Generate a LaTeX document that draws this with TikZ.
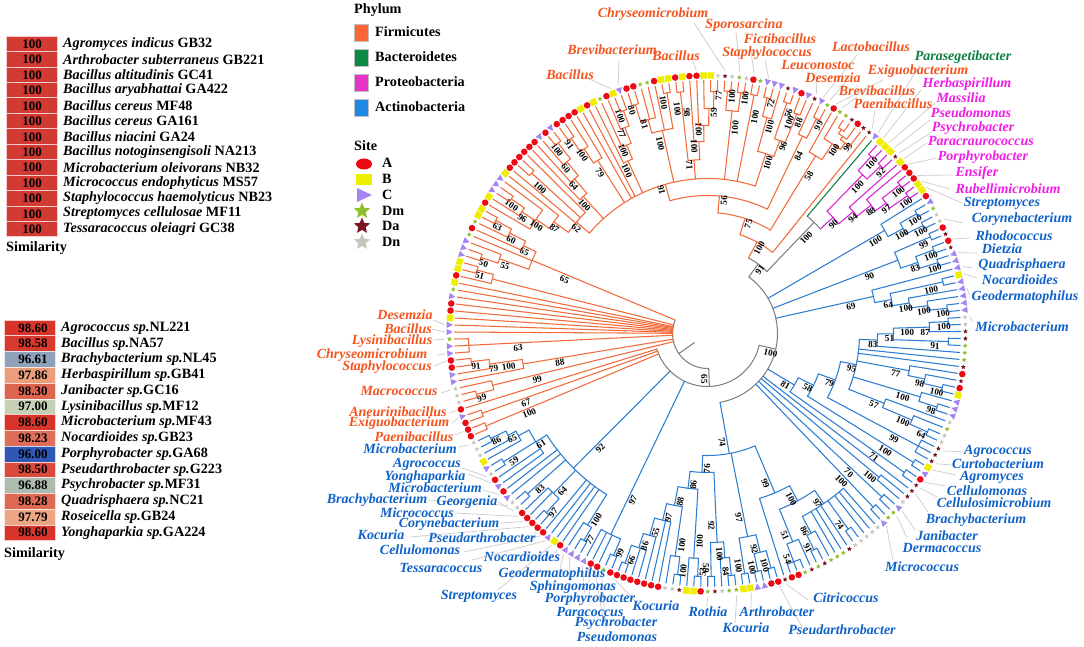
\documentclass[tikz,border=0pt]{standalone}
\usepackage{fontspec}
\setmainfont{Liberation Serif}
\usetikzlibrary{shapes.geometric}
\definecolor{fi}{HTML}{F2693A}
\definecolor{fit}{HTML}{F4541E}
\definecolor{ba}{HTML}{0B7F45}
\definecolor{pr}{HTML}{D91FD0}
\definecolor{prt}{HTML}{F01CE6}
\definecolor{ac}{HTML}{2B7CD3}
\definecolor{act}{HTML}{0F62C8}
\definecolor{gy}{HTML}{808080}
\definecolor{mA}{HTML}{EE0A14}
\definecolor{mB}{HTML}{F0EE00}
\definecolor{mC}{HTML}{A585F2}
\definecolor{mM}{HTML}{8DC02C}
\definecolor{mK}{HTML}{7A1420}
\definecolor{mN}{HTML}{C6C6BC}
\definecolor{lF}{HTML}{FF6633}
\definecolor{lB}{HTML}{0A8A45}
\definecolor{lP}{HTML}{E835C8}
\definecolor{lA}{HTML}{1E88E5}
\tikzset{
 blab/.style={text=black,inner sep=0pt,font=\bfseries\fontsize{9.2}{9}\selectfont},
 lead/.style={draw=black!20,line width=.7pt},
 tx/.style={inner sep=0pt,font=\bfseries\itshape\fontsize{14}{14}\selectfont},
 rowbox/.style={line width=.6pt},
 rowtxt/.style={anchor=west,inner sep=0pt,text=black,font=\bfseries\fontsize{14.2}{14}\selectfont},
 rownum/.style={inner sep=0pt,text=black,font=\bfseries\fontsize{13}{13}\selectfont},
 legtxt/.style={anchor=west,inner sep=0pt,text=black,font=\bfseries\fontsize{14.2}{14}\selectfont},
 legbox/.style={draw=black!25,line width=.6pt},
 starm/.style={star,star points=5,star point ratio=2.2,inner sep=0pt,minimum size=#1,draw=none},
 branch/.style={line width=1.05pt,line cap=round},
}
\def\Lf{.76}
\newcommand\Lab[3]{%
 \pgfmathsetmacro\la{266.89-1.5859*(#1)}%
 \pgfmathsetmacro\lc{cos(\la)}%
 \pgfmathsetmacro\ls{\lc>=0?-1:1}%
 \pgfmathsetmacro\lb{\la+\ls*5/(#2)*57.3}%
 \pgfmathsetmacro\lrot{\lc>=0?\la:\la+180}%
 \node[blab,rotate=\lrot] at (\lb:#2pt) {#3};}
\newcommand\Nd[5]{%
 \pgfmathsetmacro\aA{266.89-1.5859*(#1)}%
 \pgfmathsetmacro\aB{266.89-1.5859*(#2)}%
 \pgfmathsetmacro\aM{266.89-1.5859*(#1+#2)/2}%
 \draw[branch] (\aA:#3pt) arc[start angle=\aA,end angle=\aB,radius=#3pt];
 \draw[branch] (\aM:#4pt) -- (\aM:#3pt);
 \ifx\relax#5\relax\else
 \pgfmathsetmacro\lrr{#4+\Lf*(#3-#4)}%
 \Lab{(#1+#2)/2}{\lrr}{#5}%
 \fi}
\newcommand\Lv[2]{\foreach \q in {#2}{%
 \pgfmathsetmacro\aC{266.89-1.5859*\q}%
 \draw[branch] (\aC:#1pt) -- (\aC:253pt);}}
\newcommand\Ch[5]{\Nd{#1}{#2}{#3}{#4}{#5}\Lv{#3}{#1,#2}}
\newcommand\St[4]{%
 \pgfmathsetmacro\aM{266.89-1.5859*(#1)}%
 \draw[branch] (\aM:#2pt) -- (\aM:#3pt);
 \pgfmathsetmacro\lrr{#2+\Lf*(#3-#2)}%
 \Lab{#1}{\lrr}{#4}}
\newcommand\Ld[3]{%
 \pgfmathsetmacro\aC{266.89-1.5859*(#1)}%
 \draw[lead] (\aC:263pt) -- ({#2-707.5},{333.5-#3});}
\newcommand\Tx[4]{\node[tx,text=#1] at (#2,-#3) {#4};}
\newcommand\RowA[5]{%
 \pgfmathsetmacro\yy{-(36+15.44*(#1))}%
 \pgfmathsetmacro\yc{\yy-7.72}%
 \pgfmathsetmacro\yb{\yy-15.44}%
 \fill[#2,draw=white!75!#2,rowbox] (6.7,\yy) rectangle (57,\yb);
 \node[rownum] at (32,\yc-.5) {#3};
 \node[rowtxt] at (63,\yc) {\textit{#4} #5};}
\newcommand\RowB[5]{%
 \pgfmathsetmacro\yy{-(320+15.76*(#1))}%
 \pgfmathsetmacro\yc{\yy-7.88}%
 \pgfmathsetmacro\yb{\yy-15.76}%
 \fill[#2,draw=white!75!#2,rowbox] (4.5,\yy) rectangle (55,\yb);
 \node[rownum] at (33,\yc) {#3};
 \node[rowtxt] at (61,\yc) {\textit{#4 sp.}#5};}
\begin{document}
\begin{tikzpicture}[x=1pt,y=1pt]
\useasboundingbox (0,0) rectangle (1084,-647);
\fill[white] (0,0) rectangle (1084,-647);
% --- left tables
\definecolor{rr}{HTML}{D23A34}
\RowA{0}{rr}{100}{Agromyces indicus}{GB32}
\RowA{1}{rr}{100}{Arthrobacter subterraneus}{GB221}
\RowA{2}{rr}{100}{Bacillus altitudinis}{GC41}
\RowA{3}{rr}{100}{Bacillus aryabhattai}{GA422}
\RowA{4}{rr}{100}{Bacillus cereus}{MF48}
\RowA{5}{rr}{100}{Bacillus cereus}{GA161}
\RowA{6}{rr}{100}{Bacillus niacini}{GA24}
\RowA{7}{rr}{100}{Bacillus notoginsengisoli}{NA213}
\RowA{8}{rr}{100}{Microbacterium oleivorans}{NB32}
\RowA{9}{rr}{100}{Micrococcus endophyticus}{MS57}
\RowA{10}{rr}{100}{Staphylococcus haemolyticus}{NB23}
\RowA{11}{rr}{100}{Streptomyces cellulosae}{MF11}
\RowA{12}{rr}{100}{Tessaracoccus oleiagri}{GC38}
\node[legtxt] at (6,-248) {Similarity};
\definecolor{c1}{HTML}{D8342C}\definecolor{c2}{HTML}{D83A30}\definecolor{c3}{HTML}{8FA2BC}
\definecolor{c4}{HTML}{EA9E7C}\definecolor{c5}{HTML}{DE6550}\definecolor{c6}{HTML}{C6D0B6}
\definecolor{c7}{HTML}{DF6E58}\definecolor{c8}{HTML}{2F58B6}\definecolor{c9}{HTML}{DA4A3C}
\definecolor{c10}{HTML}{AEBCB0}\definecolor{c11}{HTML}{DE6A54}\definecolor{c12}{HTML}{ECA684}
\RowB{0}{c1}{98.60}{Agrococcus}{NL221}
\RowB{1}{c2}{98.58}{Bacillus}{NA57}
\RowB{2}{c3}{96.61}{Brachybacterium}{NL45}
\RowB{3}{c4}{97.86}{Herbaspirillum}{GB41}
\RowB{4}{c5}{98.30}{Janibacter}{GC16}
\RowB{5}{c6}{97.00}{Lysinibacillus}{MF12}
\RowB{6}{c1}{98.60}{Microbacterium}{MF43}
\RowB{7}{c7}{98.23}{Nocardioides}{GB23}
\RowB{8}{c8}{96.00}{Porphyrobacter}{GA68}
\RowB{9}{c9}{98.50}{Pseudarthrobacter}{G223}
\RowB{10}{c10}{96.88}{Psychrobacter}{MF31}
\RowB{11}{c11}{98.28}{Quadrisphaera}{NC21}
\RowB{12}{c12}{97.79}{Roseicella}{GB24}
\RowB{13}{c1}{98.60}{Yonghaparkia}{GA224}
\node[legtxt] at (4,-554) {Similarity};
% --- legends
\node[legtxt] at (354,-10) {Phylum};
\fill[lF,legbox] (354,-24) rectangle (368,-41); \node[legtxt] at (375,-32) {Firmicutes};
\fill[lB,legbox] (354,-49) rectangle (368,-66); \node[legtxt] at (375,-57) {Bacteroidetes};
\fill[lP,legbox] (354,-74) rectangle (368,-91); \node[legtxt] at (375,-82) {Proteobacteria};
\fill[lA,legbox] (354,-99) rectangle (368,-116); \node[legtxt] at (375,-107) {Actinobacteria};
\node[legtxt] at (354,-146) {Site};
\fill[mA] (364,-164) ellipse (8 and 5.5); \node[legtxt] at (382,-163) {A};
\fill[mB] (356,-174) rectangle (372,-185); \node[legtxt] at (382,-179) {B};
\fill[mC] (357,-188) -- (372,-195) -- (357,-202) -- cycle; \node[legtxt] at (382,-195) {C};
\node[starm=17pt,fill=mM] at (362,-211) {}; \node[legtxt] at (382,-211) {Dm};
\node[starm=17pt,fill=mK] at (362,-226) {}; \node[legtxt] at (382,-226) {Da};
\node[starm=17pt,fill=mN] at (362,-242) {}; \node[legtxt] at (382,-242) {Dn};
% --- tree
\begin{scope}[shift={(707.5,-333.5)}]
% leaders
\Ld{114}{694}{23}\Ld{116}{736}{32}\Ld{118}{750}{45}\Ld{120}{765}{60}\Ld{128}{857}{55}\Ld{127}{816}{72}
\Ld{129}{845}{83}\Ld{130}{883}{80}\Ld{131}{857}{97}\Ld{136}{875}{110}\Ld{137}{920}{65}\Ld{138}{921}{90}
\Ld{139}{935}{103}\Ld{140}{930}{120}\Ld{141}{932}{132}\Ld{142}{927}{143}\Ld{143}{937}{158}\Ld{145}{953}{175}
\Ld{146}{950}{189}\Ld{147}{962}{203}\Ld{152}{963}{223}\Ld{155}{970}{238}\Ld{157}{977}{253}\Ld{159}{973}{268}
\Ld{160}{977}{278}\Ld{162}{970}{295}\Ld{166}{973}{322}\Ld{185}{965}{452}\Ld{187}{952}{465}\Ld{188}{956}{475}
\Ld{190}{945}{486}\Ld{191}{937}{497}\Ld{192}{928}{512}\Ld{195}{915}{530}\Ld{196}{907}{538}\Ld{198}{893}{560}
\Ld{214}{808}{600}\Ld{215}{802}{627}\Ld{219}{751}{608}\Ld{221}{735}{623}\Ld{225}{706.7}{606}
\Ld{11}{635}{601}\Ld{13}{606}{630}\Ld{14}{603}{618}\Ld{15}{590}{606}\Ld{16}{585}{594}\Ld{18}{570}{582}\Ld{19}{560}{570}
\Ld{21}{498}{590}\Ld{20}{555}{553}\Ld{22}{472}{560}\Ld{23}{464}{552}\Ld{24}{536}{534}\Ld{25}{410}{537}\Ld{26}{500}{523}
\Ld{27}{455}{513}\Ld{28}{498}{502}\Ld{29}{429}{500}\Ld{31}{483}{490}\Ld{33}{468}{474}\Ld{34}{462}{468}\Ld{39}{459}{447}
\Ld{41}{455}{435}\Ld{43}{452}{423}\Ld{44}{449}{413}\Ld{47}{441}{393}\Ld{51}{434}{366}\Ld{52}{437}{355}\Ld{54}{433}{340}
\Ld{55}{432}{329}\Ld{56}{433}{320}\Ld{98}{589}{79}\Ld{99}{619}{60}\Ld{110}{693}{61}
% root (gray)
\begin{scope}[color=gy]
\draw[branch] (158.2:35pt) arc[start angle=158.2,end angle=272,radius=35pt];
\draw[branch] (215:16pt) -- (215:35pt);
\draw[branch] (272:35pt) -- (272:53pt);
\Lab{-3.3}{46}{65}
\draw[branch] (197.1:53pt) arc[start angle=197.1,end angle=347.1,radius=53pt];
\draw[branch] (-12.9:53pt) -- (-12.9:70pt);
\Lab{176.43}{66}{100}
\draw[branch] (53.6:70pt) arc[start angle=53.6,end angle=-79.7,radius=70pt];
\Nd{129.485}{139.15}{86}{70}{91}
\Nd{137}{141.31}{154}{86}{100}
\end{scope}
% Firmicutes
\begin{scope}[color=fi]
\Lv{35}{55,56,57,58,59,60,61,62}
\Nd{52}{54}{239}{35}{63}\Lv{239}{52,53,54}
\Ch{50}{51}{238}{220}{91}
\Nd{49}{50.5}{220}{206}{79}\Lv{220}{49}
\St{49.75}{187}{206}{100}
\Nd{48}{49.75}{187}{35}{88}\Lv{187}{48}
\Ch{45}{46}{239}{221}{99}
\Nd{45.5}{47}{221}{35}{99}\Lv{221}{47}
\Lv{53}{44}
\Ch{42}{43}{239}{53}{67}
\Ch{40}{41}{240}{53}{100}
\Ch{64}{65}{239}{222}{51}
\Nd{63}{64.5}{222}{35}{}\Lv{222}{63}
\Ch{66}{67}{239}{221}{50}
\Nd{66.5}{68}{221}{190}{55}\Lv{221}{68}
\Ch{72}{73}{240}{222}{63}
\Nd{71}{72.5}{222}{204}{60}\Lv{222}{71}
\Nd{70}{71.75}{204}{190}{65}\Lv{204}{70}
\Lv{190}{69}
\Nd{67.25}{70.875}{190}{35}{65}
\Ch{76}{77}{238}{222}{100}
\Nd{75}{76.5}{222}{206}{96}\Lv{222}{75}
\Nd{74}{78}{206}{190}{100}\Lv{206}{74,78}
\Nd{76}{79}{190}{172}{87}\Lv{190}{79}
\Ch{81}{82}{238}{172}{100}
\Nd{77.5}{83}{172}{155}{62}\Lv{172}{80,83}
\Ch{87}{88}{242}{222}{100}
\Nd{86}{87.5}{222}{204}{60}\Lv{222}{86}
\Nd{85}{86.75}{204}{185}{64}\Lv{204}{85}
\Nd{84}{85.875}{185}{155}{100}\Lv{185}{84}
\Ch{89}{90}{238}{222}{91}
\Nd{89.5}{91}{222}{205}{100}\Lv{222}{91}
\Nd{90.25}{92}{205}{155}{79}\Lv{205}{92}
\Lv{155}{93,94}
\Ch{98}{99}{238}{222}{100}
\Nd{97}{98.5}{222}{205}{77}\Lv{222}{97}
\Nd{96}{97.75}{205}{190}{100}\Lv{205}{96}
\Nd{95}{96.875}{190}{155}{100}\Lv{190}{95}
\Ch{100}{101}{240}{222}{80}
\Nd{100.5}{103}{222}{208}{81}\Lv{222}{102,103}
\Ch{105}{106}{244}{208}{100}\Lv{208}{104}
\Nd{101.75}{105.5}{208}{155}{100}
\Ch{107}{108}{243}{174}{100}
\Lv{192}{109}\Lab{109}{222}{98}
\Ch{112}{113}{242}{225}{77}
\Nd{111}{112.5}{225}{208}{59}\Lv{225}{111}
\Nd{110}{111.75}{208}{192}{100}\Lv{208}{110}
\Nd{109}{110.875}{192}{174}{100}
\Nd{107.5}{109.94}{174}{155}{71}
\Ch{114}{115}{243}{224}{100}
\Ch{116}{117}{243}{224}{100}
\Nd{114.5}{116.5}{224}{155}{100}
\Ch{118}{119}{243}{155}{100}
\Ch{120}{121}{243}{224}{72}
\Nd{120.5}{122}{224}{189}{100}\Lv{224}{122}
\Ch{123}{124}{244}{206}{56}
\Ch{125}{126}{237}{206}{88}
\Lab{124.1}{226}{100}
\Nd{123.5}{125.5}{206}{189}{96}
\Nd{121.25}{124.5}{189}{155}{100}
\Nd{80.25}{122.875}{155}{138}{91}
\Ch{128}{129}{241}{219}{99}
\Nd{127}{128.5}{219}{138}{84}\Lv{219}{127}
\Nd{101.56}{127.75}{138}{121}{56}
\Ch{132}{133}{244}{239}{}
\Nd{132.5}{134}{239}{235}{}\Lv{239}{134}
\Nd{133.25}{135}{235}{227}{99}\Lv{235}{135}
\Lv{227}{131}
\Nd{131}{134.125}{227}{208}{100}
\Lv{208}{130}
\Nd{130}{132.56}{208}{121}{58}
\Nd{114.66}{131.28}{121}{104}{75}
\Lv{104}{136}
\Nd{122.97}{136}{104}{86}{100}
\end{scope}
% Bacteroidetes
\begin{scope}[color=ba]\Lv{154}{137}\end{scope}
% Proteobacteria
\begin{scope}[color=pr]
\Ch{138}{139}{241}{222}{100}
\Ch{140}{141}{241}{222}{92}
\Nd{138.5}{140.5}{222}{171}{100}
\Ch{144}{145}{243}{221}{100}
\Ch{146}{147}{243}{221}{100}
\Nd{144.5}{146.5}{221}{208}{97}
\Nd{143}{145.5}{208}{190}{88}\Lv{208}{143}
\Nd{142}{144.25}{190}{171}{94}\Lv{190}{142}
\Nd{139.5}{143.125}{171}{154}{90}
\end{scope}
% Actinobacteria
\begin{scope}[color=ac]
\Ch{149}{150}{241}{222}{100}
\Ch{151}{152}{241}{222}{100}
\Nd{149.5}{151.5}{222}{205}{100}
\def\Lf{.9}\Nd{148}{150.5}{205}{70}{100}\def\Lf{.76}\Lv{205}{148}
\Ch{153}{154}{243}{204}{99}
\Ch{155}{156}{241}{222}{100}
\Ch{157}{158}{241}{222}{100}
\Nd{155.5}{157.5}{222}{204}{83}
\Nd{153.5}{156.5}{204}{70}{90}
\Ch{160}{161}{241}{187}{100}
\Ch{164}{165}{241}{222}{100}
\Nd{163}{164.5}{222}{204}{100}\Lv{222}{163}
\Nd{162}{163.75}{204}{187}{100}\Lv{204}{162}
\Nd{160.5}{162.875}{187}{170}{64}
\Nd{159}{161.69}{170}{70}{69}\Lv{170}{159}
\Ch{166}{167}{241}{222}{100}
\Nd{166.5}{168}{222}{204}{87}\Lv{222}{168}
\St{167.25}{186}{204}{100}
\Ch{169}{170}{241}{186}{91}
\Nd{167.25}{169.5}{186}{170}{51}
\Nd{168.375}{171}{170}{152}{83}\Lv{170}{171}
\Lv{152}{172,173}
\Ch{176}{177}{241}{222}{100}
\Nd{175}{176.5}{222}{205}{98}\Lv{222}{175}
\Nd{174}{175.75}{205}{152}{77}\Lv{205}{174}
\Ch{179}{180}{241}{222}{98}
\Nd{178}{179.5}{222}{152}{100}\Lv{222}{178}
\Ch{183}{184}{241}{222}{64}
\Nd{182}{183.5}{222}{190}{100}\Lv{222}{182}
\Nd{181}{182.75}{190}{152}{57}\Lv{190}{181}
\Nd{169.69}{181.875}{152}{136}{95}
\Nd{185}{187}{239}{136}{99}\Lv{239}{185,186,187}
\Nd{175.78}{186}{136}{118}{79}
\Ch{188}{189}{243}{118}{100}
\Nd{180.89}{188.5}{118}{101}{58}
\Ch{190}{191}{241}{101}{71}
\Nd{184.7}{190.5}{101}{70}{81}
\Lv{70}{192}
\def\Lf{.95}\Ch{193}{194}{224}{70}{100}\def\Lf{.76}
\Ch{195}{196}{239}{70}{70}
\Ch{197}{198}{240}{70}{100}
\Ch{202}{203}{241}{206}{74}
\Lv{206}{199,200,201,204,205,206}
\Ch{208}{209}{241}{225}{91}\Lv{225}{207}
\Nd{207}{208.5}{225}{206}{86}
\Nd{199}{207.75}{206}{190}{97}
\Nd{211}{213}{244}{225}{54}\Lv{244}{211,212,213}
\Lv{225}{210}
\Nd{210}{212}{225}{190}{51}
\Nd{203.375}{211}{190}{173}{100}
\Lv{173}{214}
\Nd{207.19}{214}{173}{122}{99}
\Ch{215}{216}{243}{225}{100}
\Ch{217}{218}{243}{225}{100}
\Nd{215.5}{217.5}{225}{207}{92}
\Ch{219}{220}{243}{207}{100}
\Nd{216.5}{219.5}{207}{122}{97}
\Ch{221}{222}{243}{225}{84}\Lv{225}{223}
\Nd{221.5}{223}{225}{209}{100}
\Ch{224}{225}{243}{209}{59}
\Nd{222.25}{224.5}{209}{139}{92}
\Ch{226}{227}{243}{225}{53}\Lv{225}{228}
\Nd{226.5}{228}{225}{156}{100}
\Ch{229}{230}{243}{225}{100}\Lv{225}{231}
\Nd{229.5}{231}{225}{175}{100}
\Ch{237}{238}{244}{225}{66}\Lv{225}{235,236}
\Nd{235}{237.5}{225}{210}{86}
\Lv{210}{234}
\Nd{234}{236.25}{210}{192}{55}
\Lv{192}{232,233}
\Nd{232}{235.125}{192}{175}{97}
\Nd{230.25}{233.56}{175}{156}{88}
\Nd{227.25}{231.9}{156}{139}{86}
\Nd{223.375}{229.58}{139}{122}{76}
\Nd{210.6}{226.48}{122}{70}{74}
\Ch{239}{240}{241}{223}{99}
\Lv{223}{241,242,243}
\Nd{239.5}{243}{223}{53}{97}
\Ch{244}{245}{241}{226}{77}
\Nd{244.5}{246}{226}{190}{100}\Lv{226}{246}
\Lv{190}{247,248,249,250}
\Ch{251}{252}{241}{222}{97}
\Lv{222}{253,254}
\Nd{251.5}{254}{222}{190}{64}
\Ch{255}{256}{241}{190}{83}
\Lv{190}{257,258}
\Lv{203}{259,260}
\Ch{261}{262}{241}{203}{59}
\Ch{265}{266}{241}{224}{86}
\Nd{264}{265.5}{224}{215}{65}\Lv{224}{264}
\Nd{263}{264.75}{215}{203}{}\Lv{215}{263}
\Nd{259}{263.875}{203}{190}{61}
\Nd{245.25}{261.44}{190}{53}{92}
\end{scope}
% markers
\foreach \i in {5,...,12,14,15,20,23,24,25,26,27,31,33,40,41,42,44,50,51,58,59,63,70,74,80,81,82,83,84,85,87,89,90,91,92,94,97,100,101,104,107,109,110,118,125,130,134,143,144,145,148,153,155,174,176,190,212,213,215,216,226}{%
 \pgfmathsetmacro\am{266.89-1.5859*\i}\fill[mA] (\am:258pt) circle (3.3pt);}
\foreach \i in {1,21,36,57,62,64,65,72,73,75,79,93,95,98,105,106,108,111,112,138,139,140,142,146,147,160,177,188,219,220,227}{%
 \pgfmathsetmacro\am{266.89-1.5859*\i}\fill[mB,shift={(\am:258pt)},rotate=\am] (-3.2,-3.2) rectangle (3.2,3.2);}
\foreach \i in {16,17,18,19,22,30,32,35,43,48,49,52,53,55,56,60,66,67,68,76,77,78,86,88,99,120,121,122,124,126,128,137,149,157,158,159,161,162,163,164,165,178,179,180,189,195,198,217,218}{%
 \pgfmathsetmacro\am{266.89-1.5859*\i}\fill[mC,shift={(\am:258pt)},rotate=\am] (-3.2,0) -- (3,3.2) -- (3,-3.2) -- cycle;}
\foreach \i in {13,54,61,69,71,96,102,103,116,119,129,131,132,150,170,171,172,182,196,197,205,206,207,209,211,221,222,225}{%
 \pgfmathsetmacro\am{266.89-1.5859*\i}\node[starm=5pt,fill=mM] at (\am:258pt) {};}
\foreach \i in {2,114,123,127,133,135,136,141,154,156,168,169,173,175,185,186,187,191,192,193,204,208,210,214,224}{%
 \pgfmathsetmacro\am{266.89-1.5859*\i}\node[starm=5pt,fill=mK] at (\am:258pt) {};}
\foreach \i in {3,4,28,29,34,37,38,39,45,46,47,113,115,117,151,152,166,167,181,183,184,194,199,200,201,202,203,223}{%
 \pgfmathsetmacro\am{266.89-1.5859*\i}\node[starm=5pt,fill=mN] at (\am:258pt) {};}
\end{scope}
% --- taxon labels
\Tx{fit}{653}{14}{Chryseomicrobium}
\Tx{fit}{744}{25}{Sporosarcina}
\Tx{fit}{780}{39}{Fictibacillus}
\Tx{fit}{767}{53}{Staphylococcus}
\Tx{fit}{871}{47}{Lactobacillus}
\Tx{fit}{818}{65}{Leuconostoc}
\Tx{fit}{833}{78}{Desemzia}
\Tx{fit}{918}{71}{Exiguobacterium}
\Tx{fit}{877}{91}{Brevibacillus}
\Tx{fit}{893}{104}{Paenibacillus}
\Tx{fit}{570}{75}{Bacillus}
\Tx{fit}{612}{50}{Brevibacterium}
\Tx{fit}{676}{56}{Bacillus}
\Tx{ba}{963}{57}{Parasegetibacter}
\Tx{prt}{967}{84}{Herbaspirillum}
\Tx{prt}{961}{98}{Massilia}
\Tx{prt}{971}{113}{Pseudomonas}
\Tx{prt}{973}{128}{Psychrobacter}
\Tx{prt}{981}{141}{Paracraurococcus}
\Tx{prt}{983}{157}{Porphyrobacter}
\Tx{prt}{977}{173}{Ensifer}
\Tx{prt}{1008}{189}{Rubellimicrobium}
\Tx{act}{1002}{203}{Streptomyces}
\Tx{act}{1022}{219}{Corynebacterium}
\Tx{act}{1014}{236}{Rhodococcus}
\Tx{act}{1002}{249}{Dietzia}
\Tx{act}{1022}{265}{Quadrisphaera}
\Tx{act}{1020}{280}{Nocardioides}
\Tx{act}{1025}{297}{Geodermatophilus}
\Tx{act}{1022}{327}{Microbacterium}
\Tx{act}{998}{451}{Agrococcus}
\Tx{act}{998}{464}{Curtobacterium}
\Tx{act}{992}{477}{Agromyces}
\Tx{act}{987}{491}{Cellulomonas}
\Tx{act}{994}{503}{Cellulosimicrobium}
\Tx{act}{976}{520}{Brachybacterium}
\Tx{act}{947}{536}{Janibacter}
\Tx{act}{942}{548}{Dermacoccus}
\Tx{act}{922}{567}{Micrococcus}
\Tx{act}{846}{598}{Citricoccus}
\Tx{act}{842}{630}{Pseudarthrobacter}
\Tx{act}{777}{612}{Arthrobacter}
\Tx{act}{746}{628}{Kocuria}
\Tx{act}{708}{612}{Rothia}
\Tx{act}{656}{606}{Kocuria}
\Tx{act}{617}{637}{Pseudomonas}
\Tx{act}{616}{623}{Psychrobacter}
\Tx{act}{590}{612}{Paracoccus}
\Tx{act}{590}{599}{Porphyrobacter}
\Tx{act}{573}{587}{Sphingomonas}
\Tx{act}{552}{574}{Geodermatophilus}
\Tx{act}{479}{596}{Streptomyces}
\Tx{act}{522}{557}{Nocardioides}
\Tx{act}{441}{568}{Tessaracoccus}
\Tx{act}{420}{550}{Cellulomonas}
\Tx{act}{482}{538}{Pseudarthrobacter}
\Tx{act}{381}{535}{Kocuria}
\Tx{act}{449}{524}{Corynebacterium}
\Tx{act}{417}{513}{Micrococcus}
\Tx{act}{467}{502}{Georgenia}
\Tx{act}{377}{500}{Brachybacterium}
\Tx{act}{435}{488}{Microbacterium}
\Tx{act}{425}{477}{Yonghaparkia}
\Tx{act}{427}{464}{Agrococcus}
\Tx{act}{410}{449}{Microbacterium}
\Tx{fit}{414}{437}{Paenibacillus}
\Tx{fit}{399}{423}{Exiguobacterium}
\Tx{fit}{398}{412}{Aneurinibacillus}
\Tx{fit}{399}{391}{Macrococcus}
\Tx{fit}{387}{367}{Staphylococcus}
\Tx{fit}{372}{355}{Chryseomicrobium}
\Tx{fit}{392}{341}{Lysinibacillus}
\Tx{fit}{408}{329}{Bacillus}
\Tx{fit}{405}{315}{Desemzia}
\end{tikzpicture}
\end{document}
